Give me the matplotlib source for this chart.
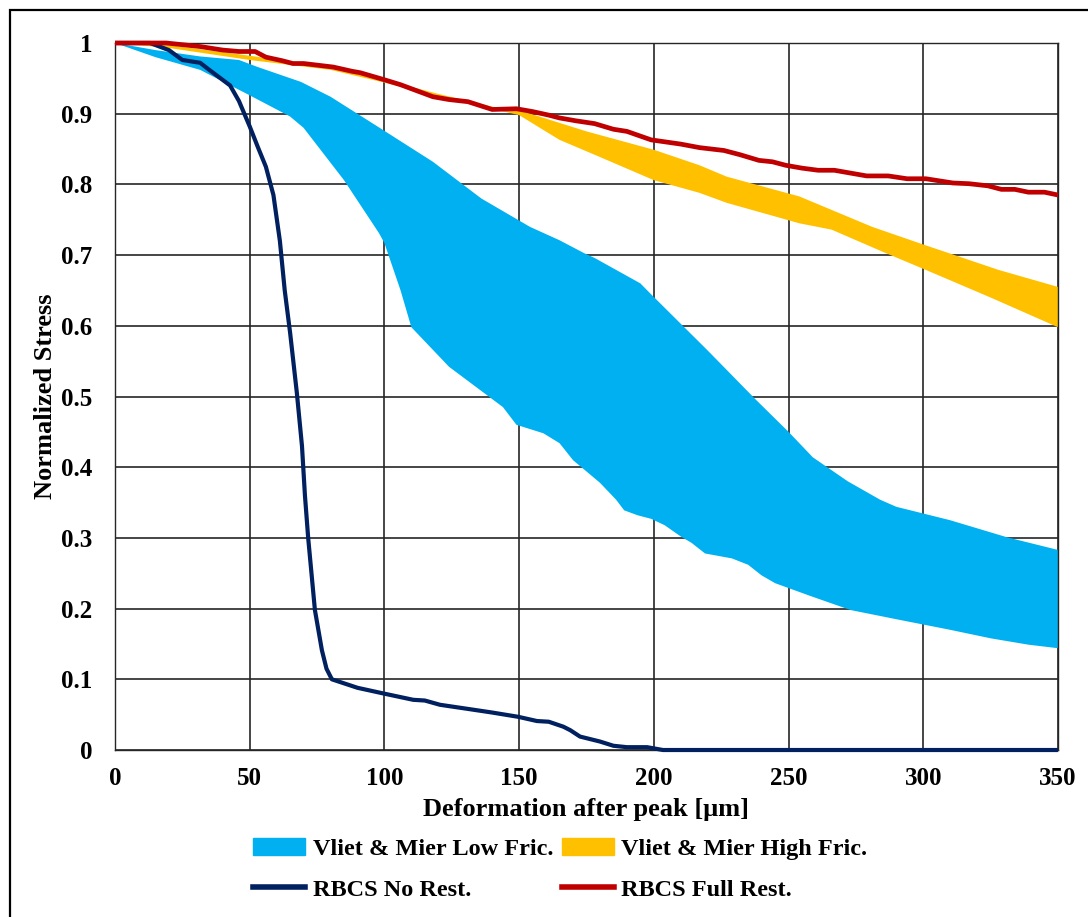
import numpy as np
import matplotlib
matplotlib.use("Agg")
import matplotlib.pyplot as plt
from matplotlib.patches import Patch, Rectangle
from matplotlib.lines import Line2D

plt.rcParams['font.family'] = ['Liberation Serif', 'DejaVu Serif']
plt.rcParams['font.weight'] = 'bold'

# Vliet & Mier, low friction band (upper / lower bound)
low_up_x = [0, 15, 31.6, 46, 53, 69, 80, 97, 118, 136, 154, 165, 174, 178, 195, 198.6,
            220, 238, 250, 259, 272, 284, 290, 310, 331, 350]
low_up_y = [1.0, 0.99, 0.981, 0.976, 0.966, 0.945, 0.924, 0.883, 0.832, 0.78, 0.74, 0.721,
            0.703, 0.696, 0.66, 0.646, 0.565, 0.495, 0.45, 0.414, 0.38, 0.354, 0.344, 0.325,
            0.301, 0.283]
low_lo_x = [0, 15, 31.6, 50, 65, 70, 85, 98, 100, 106, 110, 124, 144, 149, 159, 165, 170,
            180, 186, 189, 194, 199, 204, 210, 214, 219, 229, 235, 240, 245, 258, 273, 290,
            310, 325, 339, 350]
low_lo_y = [1.0, 0.98, 0.962, 0.926, 0.896, 0.88, 0.806, 0.731, 0.717, 0.65, 0.598, 0.542,
            0.485, 0.46, 0.448, 0.434, 0.41, 0.378, 0.354, 0.339, 0.332, 0.327, 0.318, 0.302,
            0.293, 0.278, 0.271, 0.262, 0.247, 0.236, 0.218, 0.198, 0.185, 0.170, 0.158,
            0.149, 0.144]

# Vliet & Mier, high friction band
high_up_x = [0, 20, 50, 80, 100, 120, 140, 150, 165, 175, 200, 217, 227, 254, 281, 300, 328, 350]
high_up_y = [1.0, 0.997, 0.982, 0.966, 0.948, 0.928, 0.91, 0.905, 0.887, 0.875, 0.849, 0.827,
             0.811, 0.783, 0.74, 0.715, 0.679, 0.655]
high_lo_x = [0, 20, 50, 80, 100, 120, 140, 150, 165, 178, 200, 217, 227, 254, 266, 286, 301,
             325, 350]
high_lo_y = [1.0, 0.993, 0.976, 0.962, 0.944, 0.924, 0.907, 0.898, 0.863, 0.842, 0.806, 0.788,
             0.774, 0.745, 0.736, 0.703, 0.679, 0.64, 0.598]

# RBCS, full restraint
full_x = [0, 19, 31.6, 40, 46, 52, 56, 62, 66, 70, 81, 88, 91, 100, 106, 118, 124, 131, 140,
          149, 155, 161, 165, 171, 178, 185, 190, 199, 210, 217, 226, 232, 239, 244, 249, 255,
          261, 267, 279, 287, 294, 301, 311, 317, 324, 329, 334, 339, 345, 350]
full_y = [1.0, 1.0, 0.995, 0.99, 0.988, 0.988, 0.98, 0.975, 0.971, 0.971, 0.966, 0.96, 0.958,
          0.948, 0.941, 0.924, 0.92, 0.917, 0.906, 0.907, 0.903, 0.898, 0.894, 0.89, 0.886,
          0.878, 0.875, 0.863, 0.857, 0.852, 0.848, 0.842, 0.834, 0.832, 0.827, 0.823, 0.82,
          0.82, 0.812, 0.812, 0.808, 0.808, 0.802, 0.801, 0.798, 0.793, 0.793, 0.789, 0.789,
          0.785]

# RBCS, no restraint
no_x = [0, 13, 20, 25, 31.6, 35, 42.7, 46, 50, 53, 56, 58.8, 61.2, 63, 65, 67.5, 69.4, 70.5,
        71.7, 74.2, 76.8, 78.5, 80.5, 90, 99.6, 110.7, 115, 120.6, 133, 140, 149.6, 156.6, 161,
        166.4, 169, 172.6, 180, 185, 190, 197.5, 203.4, 220, 260, 300, 350]
no_y = [1.0, 1.0, 0.99, 0.976, 0.972, 0.962, 0.94, 0.918, 0.882, 0.853, 0.825, 0.785, 0.72,
        0.65, 0.59, 0.505, 0.43, 0.36, 0.30, 0.198, 0.141, 0.115, 0.1, 0.088, 0.08, 0.071,
        0.07, 0.064, 0.057, 0.053, 0.047, 0.041, 0.04, 0.033, 0.028, 0.019, 0.012, 0.006,
        0.004, 0.004, 0.0, 0.0, 0.0, 0.0, 0.0]

c_low, c_high, c_full, c_no = '#00B0F0', '#FFC000', '#C00000', '#002060'

fig = plt.figure(figsize=(10.88, 9.17), dpi=100)
ax = fig.add_axes([0.1057, 0.1821, 0.8667, 0.771])

ax.fill(np.r_[low_up_x, low_lo_x[::-1]], np.r_[low_up_y, low_lo_y[::-1]],
        color=c_low, lw=0, zorder=2)
ax.fill(np.r_[high_up_x, high_lo_x[::-1]], np.r_[high_up_y, high_lo_y[::-1]],
        color=c_high, lw=0, zorder=2)
ax.plot(no_x, no_y, color=c_no, lw=3.0, zorder=3, clip_on=False, solid_capstyle='butt')
ax.plot(full_x, full_y, color=c_full, lw=3.4, zorder=4, clip_on=False, solid_capstyle='butt')

ax.set_xlim(0, 350)
ax.set_ylim(0, 1)
ax.set_xticks(np.arange(0, 351, 50))
ax.set_yticks(np.arange(0, 1.01, 0.1))
ax.set_yticklabels(['0', '0.1', '0.2', '0.3', '0.4', '0.5', '0.6', '0.7', '0.8', '0.9', '1'])
ax.grid(True, color='#262626', lw=1.2, zorder=1)
ax.set_axisbelow(True)
for s in ax.spines.values():
    s.set_color('#262626')
    s.set_linewidth(1.0)
ax.tick_params(length=0, labelsize=18, pad=12)
ax.tick_params(axis='y', pad=16.5)
ax.set_xlabel('Deformation after peak [μm]', fontsize=19, fontweight='bold', labelpad=6)
ax.set_ylabel('Normalized Stress', fontsize=19, fontweight='bold', labelpad=3)

# column-major order so the bands share the first row
handles = [Patch(color=c_low), Line2D([], [], color=c_no, lw=4),
           Patch(color=c_high), Line2D([], [], color=c_full, lw=4)]
labels = ['Vliet & Mier Low Fric.', 'RBCS No Rest.', 'Vliet & Mier High Fric.', 'RBCS Full Rest.']
fig.legend(handles, labels, loc='upper left', bbox_to_anchor=(253 / 1088, 1 - 838 / 917),
           ncol=2, frameon=False, fontsize=17.5, handlelength=2.15, handleheight=0.7,
           handletextpad=0.3, columnspacing=0.35, labelspacing=0.76, borderpad=0,
           borderaxespad=0)

fig.add_artist(Rectangle((10 / 1088, -0.1), 1.2, 1.1 - 10 / 917, fill=False,
                         edgecolor='black', lw=1.6, transform=fig.transFigure))

fig.savefig('out.png', dpi=100)
